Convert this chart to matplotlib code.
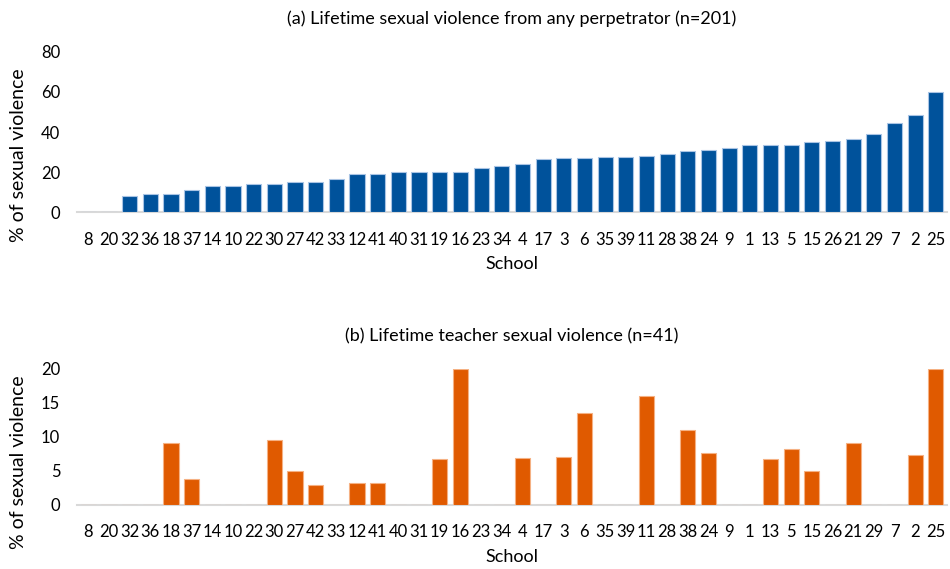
import matplotlib
matplotlib.use("Agg")
import matplotlib.pyplot as plt
import numpy as np

schools = ["8", "20", "32", "36", "18", "37", "14", "10", "22", "30", "27", "42", "33", "12",
           "41", "40", "31", "19", "16", "23", "34", "4", "17", "3", "6", "35", "39", "11",
           "28", "38", "24", "9", "1", "13", "5", "15", "26", "21", "29", "7", "2", "25"]
any_perp = [0, 0, 8.3, 9.1, 9.1, 11.3, 13.0, 13.3, 14.3, 14.3, 15.0, 15.3, 16.7, 19.2,
            19.2, 20.0, 20.0, 20.0, 20.0, 22.2, 22.9, 24.2, 26.7, 26.8, 27.1, 27.3, 27.3, 28.0,
            29.0, 30.6, 31.0, 31.8, 33.3, 33.3, 33.3, 35.2, 35.5, 36.4, 39.1, 44.6, 48.3, 60.0]
teacher = [0, 0, 0, 0, 9.1, 3.8, 0, 0, 0, 9.5, 5.0, 3.0, 0, 3.2,
           3.2, 0, 0, 6.7, 20.0, 0, 0, 6.9, 0, 7.1, 13.5, 0, 0, 16.0,
           0, 11.1, 7.7, 0, 0, 6.7, 8.3, 5.0, 0, 9.1, 0, 0, 7.4, 20.0]

plt.rcParams['font.family'] = ['Lato', 'DejaVu Sans']

fig = plt.figure(figsize=(9.5, 5.69), dpi=100)
ax1 = fig.add_axes([0.081, 0.627, 0.916, 0.282])
ax2 = fig.add_axes([0.081, 0.1125, 0.916, 0.239])

x = np.arange(len(schools))

def style(ax, vals, color, edge, title, ylim, yticks, ylab_y):
    ax.bar(x, vals, width=0.73, color=color, edgecolor=edge, linewidth=0.8, zorder=3)
    ax.set_xlim(-0.55, len(schools) - 0.45)
    ax.set_ylim(*ylim)
    ax.set_yticks(yticks)
    ax.set_xticks(x)
    ax.set_xticklabels(schools)
    for s in ['top', 'right', 'left']:
        ax.spines[s].set_visible(False)
    ax.spines['bottom'].set_color('#D9D9D9')
    ax.spines['bottom'].set_linewidth(1.5)
    ax.tick_params(axis='both', length=0, labelsize=12, colors='black')
    ax.tick_params(axis='x', pad=14)
    ax.tick_params(axis='y', pad=12)
    ax.set_xlabel('School', fontsize=13, labelpad=6)
    ax.set_ylabel('% of sexual violence', fontsize=14)
    ax.yaxis.set_label_coords(-0.057, ylab_y)
    ax.set_title(title, fontsize=13, pad=20)

style(ax1, any_perp, '#00529B', '#A9C4E4',
      '(a) Lifetime sexual violence from any perpetrator (n=201)', (0, 80), [0, 20, 40, 60, 80], 0.356)
style(ax2, teacher, '#E05A00', '#F5B183',
      '(b) Lifetime teacher sexual violence (n=41)', (0, 20), [0, 5, 10, 15, 20], 0.316)

fig.savefig('out.png', dpi=100)
